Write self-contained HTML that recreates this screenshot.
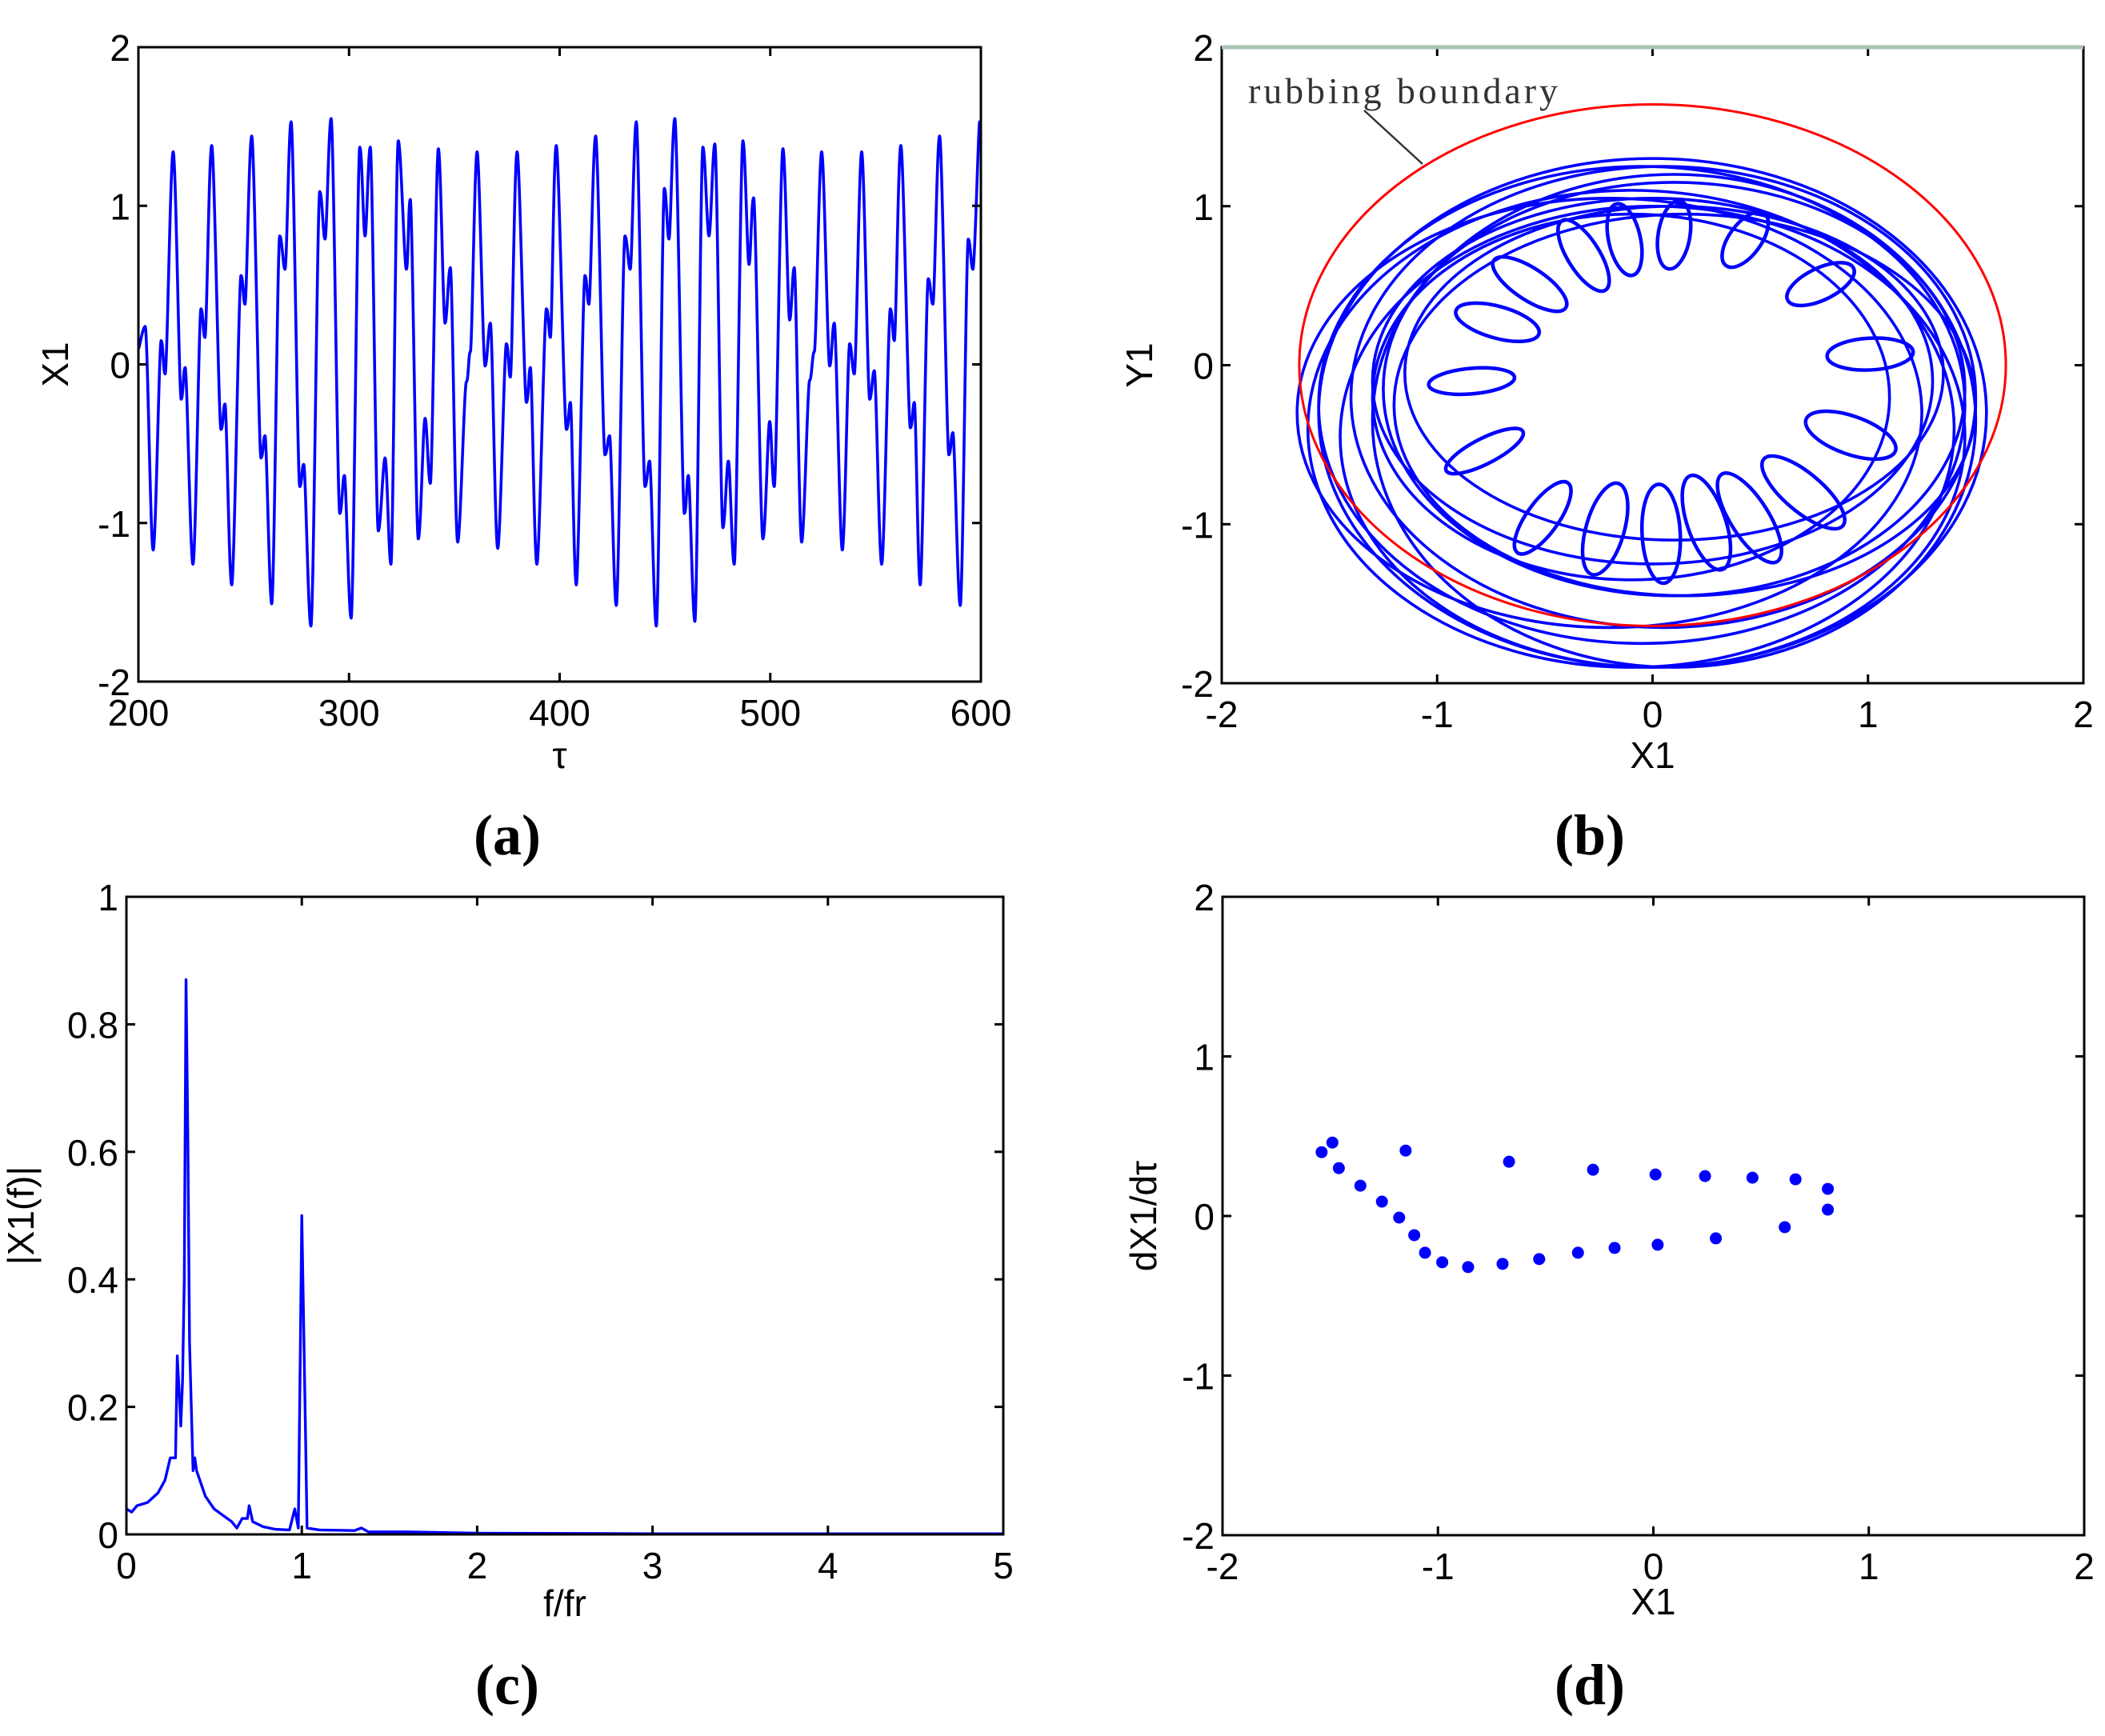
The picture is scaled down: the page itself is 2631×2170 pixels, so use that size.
<!DOCTYPE html>
<html><head><meta charset="utf-8"><style>
html,body{margin:0;padding:0;background:#fff}
svg{display:block}
text{font-family:"Liberation Sans",sans-serif}
.cap{font-family:"Liberation Serif",serif;font-weight:bold;font-size:72px}
.ann{font-family:"Liberation Serif",serif}
</style></head><body>
<svg id="fig" width="2631" height="2170" viewBox="0 0 2631 2170" xmlns="http://www.w3.org/2000/svg">
<g id="pa"></g>
<g id="pb"></g>
<g id="pc"></g>
<g id="pd"></g>
<text class="cap" x="634" y="1068" text-anchor="middle">(a)</text>
<text class="cap" x="1987" y="1068" text-anchor="middle">(b)</text>
<text class="cap" x="634" y="2130" text-anchor="middle">(c)</text>
<text class="cap" x="1987" y="2130" text-anchor="middle">(d)</text>
</svg>
<script>
// ---- Panel (a) data ----
const tauA = [200.0,203.2,207.0,210.8,212.7,216.5,220.3,222.2,225.9,229.7,231.6,234.8,239.2,241.1,244.3,248.7,250.6,253.8,258.2,260.1,263.3,267.1,269.6,272.5,276.6,278.5,281.9,286.1,288.6,291.5,295.6,297.8,301.0,305.1,307.6,310.1,313.9,317.1,319.9,323.4,327.2,329.1,332.9,336.1,338.6,342.4,345.6,348.1,351.6,355.7,357.6,360.8,364.6,367.1,370.6,374.7,376.6,379.8,384.2,386.1,389.2,393.7,395.6,398.4,403.2,405.1,407.9,412.0,413.9,417.1,421.5,423.7,426.9,431.0,433.5,436.4,440.5,442.7,445.9,449.7,451.9,454.7,459.2,461.1,464.2,468.0,470.9,473.7,477.5,480.1,482.9,487.0,489.9,492.1,496.5,499.7,501.9,506.0,509.2,511.4,514.9,518.7,520.9,524.4,528.2,530.4,534.2,537.7,539.9,543.4,547.2,549.4,552.9,557.0,558.9,562.0,566.5,568.4,571.2,575.0,577.2,580.4,584.8,586.7,590.2,594.0,596.2,599.4];
const x1A = [0.1,0.24,-1.17,0.15,-0.06,1.34,-0.22,-0.02,-1.26,0.35,0.17,1.38,-0.41,-0.25,-1.39,0.56,0.38,1.44,-0.59,-0.45,-1.51,0.81,0.6,1.53,-0.77,-0.63,-1.65,1.09,0.79,1.55,-0.94,-0.7,-1.6,1.37,0.81,1.37,-1.05,-0.59,-1.26,1.41,0.6,1.04,-1.1,-0.34,-0.75,1.36,0.26,0.61,-1.12,-0.11,0.08,1.34,-0.01,0.26,-1.16,0.13,-0.08,1.34,-0.24,-0.02,-1.26,0.35,0.17,1.38,-0.41,-0.24,-1.39,0.56,0.38,1.44,-0.57,-0.45,-1.52,0.81,0.6,1.53,-0.77,-0.61,-1.65,1.11,0.79,1.55,-0.94,-0.7,-1.62,1.37,0.81,1.39,-1.03,-0.61,-1.26,1.41,0.63,1.05,-1.1,-0.36,-0.77,1.36,0.28,0.61,-1.12,-0.1,0.08,1.34,-0.01,0.26,-1.17,0.13,-0.06,1.34,-0.22,-0.04,-1.26,0.35,0.15,1.38,-0.4,-0.24,-1.39,0.54,0.38,1.44,-0.57,-0.43,-1.52,0.79,0.6,1.53];
const ticksAx = [200,300,400,500,600];
const ticksAy = [-2,-1,0,1,2];
// ---- Panel (b) data ----
const boundR = 1.64, boundCx = 0.0, boundCy = 0.0;
const loopCx = [-0.57,-0.32,-0.13,0.10,0.43,0.78,1.01,0.92,0.70,0.45,0.25,0.04,-0.22,-0.51,-0.78,-0.84,-0.72];
const loopCy = [0.51,0.69,0.79,0.82,0.79,0.51,0.07,-0.44,-0.80,-0.96,-0.99,-1.06,-1.03,-0.96,-0.54,-0.10,0.27];
const loopLen = [0.2,0.19,0.17,0.16,0.15,0.17,0.2,0.22,0.24,0.24,0.23,0.23,0.22,0.2,0.2,0.2,0.2];
const loopWid = [0.1,0.1,0.1,0.1,0.1,0.1,0.1,0.12,0.12,0.12,0.12,0.12,0.12,0.1,0.08,0.08,0.1];
const ringCx = [0.0,-0.05,0.05,0.1,0.0,0.1,-0.1,0.1,-0.2,0.0,0.15,-0.1];
const ringCy = [-0.3,-0.25,-0.2,-0.15,-0.1,-0.05,-0.4,-0.35,-0.3,-0.45,-0.25,-0.2];
const ringRx = [1.55,1.5,1.45,1.35,1.3,1.25,1.5,1.4,1.45,1.45,1.35,1.2];
const ringRy = [1.6,1.5,1.45,1.3,1.15,1.05,1.5,1.55,1.35,1.45,1.2,1.15];
const ticksB = [-2,-1,0,1,2];
// ---- Panel (c) data ----
const freqC = [0,0.03,0.06,0.12,0.18,0.22,0.25,0.28,0.29,0.305,0.31,0.32,0.33,0.34,0.35,0.36,0.37,0.38,0.39,0.4,0.45,0.5,0.55,0.6,0.63,0.66,0.69,0.7,0.72,0.78,0.85,0.93,0.96,0.98,0.99,1.0,1.01,1.02,1.03,1.1,1.3,1.34,1.38,1.6,2,3,5];
const ampC = [0.04,0.035,0.045,0.05,0.065,0.085,0.12,0.12,0.28,0.2,0.17,0.24,0.4,0.87,0.63,0.3,0.2,0.1,0.12,0.1,0.06,0.04,0.03,0.02,0.01,0.025,0.025,0.045,0.02,0.012,0.008,0.007,0.04,0.01,0.25,0.5,0.34,0.18,0.01,0.007,0.006,0.01,0.004,0.004,0.002,0.001,0.001];
const ticksCx = [0,1,2,3,4,5];
const ticksCy = [0,0.2,0.4,0.6,0.8,1];
const tickLabelsCy = ["0","0.2","0.4","0.6","0.8","1"];
// ---- Panel (d) data ----
const x1D = [-1.54,-1.49,-1.46,-1.36,-1.26,-1.18,-1.11,-1.06,-0.98,-0.86,-0.70,-0.53,-0.35,-0.18,0.02,0.29,0.61,0.81,0.81,0.66,0.46,0.24,0.01,-0.28,-0.67,-1.15];
const dxD = [0.40,0.46,0.30,0.19,0.09,-0.01,-0.12,-0.23,-0.29,-0.32,-0.30,-0.27,-0.23,-0.20,-0.18,-0.14,-0.07,0.04,0.17,0.23,0.24,0.25,0.26,0.29,0.34,0.41];

const NS = "http://www.w3.org/2000/svg";
function el(parent, tag, attrs){ const e=document.createElementNS(NS,tag); for(const k in attrs) e.setAttribute(k,attrs[k]); parent.appendChild(e); return e; }
function scale(d0,d1,r0,r1){ return v=>r0+(v-d0)/(d1-d0)*(r1-r0); }

function axesFrame(g, L,T,R,B, sx, sy, tx, ty, tyLabels, xlab, ylab, ylabX, xlabY, prefix){
  const f=el(g,'rect',{x:L,y:T,width:R-L,height:B-T,fill:'none',stroke:'#000','stroke-width':3});
  
  
  tx.forEach(v=>{
    const x=sx(v);
    const t1=el(g,'line',{x1:x,y1:B,x2:x,y2:B-11,stroke:'#000','stroke-width':3});
    
    
    const t2=el(g,'line',{x1:x,y1:T,x2:x,y2:T+11,stroke:'#000','stroke-width':3});
    
    
    const lb=el(g,'text',{x:x,y:B+55,'text-anchor':'middle','font-size':46});
    lb.textContent=String(v);
    
    
  });
  ty.forEach((v,i)=>{
    const y=sy(v);
    const t1=el(g,'line',{x1:L,y1:y,x2:L+11,y2:y,stroke:'#000','stroke-width':3});
    
    
    const t2=el(g,'line',{x1:R,y1:y,x2:R-11,y2:y,stroke:'#000','stroke-width':3});
    
    
    const lb=el(g,'text',{x:L-10,y:y+17,'text-anchor':'end','font-size':46});
    lb.textContent=tyLabels?tyLabels[i]:String(v);
    
    
  });
  const xl=el(g,'text',{x:(L+R)/2,y:xlabY,'text-anchor':'middle','font-size':46});
  xl.textContent=xlab;
  
  
  const cy=(T+B)/2;
  const yl=el(g,'text',{x:ylabX,y:cy,'text-anchor':'middle','font-size':46,transform:`rotate(-90 ${ylabX} ${cy})`});
  yl.textContent=ylab;
  
  
}

function smoothPath(pts){
  let d=`M${pts[0][0]},${pts[0][1]}`;
  for(let i=0;i<pts.length-1;i++){
    const p0=pts[Math.max(0,i-1)],p1=pts[i],p2=pts[i+1],p3=pts[Math.min(pts.length-1,i+2)];
    const c1=[p1[0]+(p2[0]-p0[0])/6, p1[1]];
    const c2=[p2[0]-(p3[0]-p1[0])/6, p2[1]];
    d+=` C${c1[0]},${c1[1]} ${c2[0]},${c2[1]} ${p2[0]},${p2[1]}`;
  }
  return d;
}

// Panel A
(function(){
  const g=document.getElementById('pa');
  const L=173,R=1226,T=59,B=852;
  const sx=scale(200,600,L,R), sy=scale(-2,2,B,T);
  const pts=tauA.map((t,i)=>[sx(t),sy(x1A[i])]);
  const p=el(g,'path',{d:smoothPath(pts),fill:'none',stroke:'#0000ff','stroke-width':3.6,'stroke-linejoin':'round'});
  
  
  axesFrame(g,L,T,R,B,sx,sy,ticksAx,ticksAy,null,'τ','X1',85,960,'panel-a');
})();

// Panel B
(function(){
  const g=document.getElementById('pb');
  const L=1527,R=2604,T=59,B=854;
  const sx=scale(-2,2,L,R), sy=scale(-2,2,B,T);
  const kx=(R-L)/4, ky=(B-T)/4;
  ringCx.forEach((c,i)=>{
    const e=el(g,'ellipse',{cx:sx(c),cy:sy(ringCy[i]),rx:ringRx[i]*kx,ry:ringRy[i]*ky,fill:'none',stroke:'#0000ff','stroke-width':3.6});
    
    
  });
  loopCx.forEach((c,i)=>{
    const ang=Math.atan2(-loopCy[i]*ky, loopCx[i]*kx)*180/Math.PI;
    const e=el(g,'ellipse',{cx:sx(c),cy:sy(loopCy[i]),rx:loopLen[i]*kx,ry:loopWid[i]*ky,fill:'none',stroke:'#0000ff','stroke-width':4.5,transform:`rotate(${ang} ${sx(c)} ${sy(loopCy[i])})`});
    
    
  });
  const circ=el(g,'ellipse',{cx:sx(boundCx),cy:sy(boundCy),rx:boundR*kx,ry:boundR*ky,fill:'none',stroke:'#ff0000','stroke-width':3});
  
  
  axesFrame(g,L,T,R,B,sx,sy,ticksB,ticksB,null,'X1','Y1',1440,960,'panel-b');
  const top=el(g,'line',{x1:L,y1:T,x2:R,y2:T,stroke:'#a9c4b2','stroke-width':5});
  
  
  const ann=el(g,'text',{x:1560,y:129,'font-size':46,fill:'#333',class:'ann',textLength:387});
  ann.textContent='rubbing boundary';
  
  
  const ld=el(g,'line',{x1:1705,y1:138,x2:1778,y2:205,stroke:'#333','stroke-width':2.5});
  
  
})();

// Panel C
(function(){
  const g=document.getElementById('pc');
  const L=158,R=1254,T=1121,B=1918;
  const sx=scale(0,5,L,R), sy=scale(0,1,B,T);
  const d=freqC.map((f,i)=>(i?'L':'M')+sx(f)+','+sy(ampC[i])).join(' ');
  const p=el(g,'path',{d:d,fill:'none',stroke:'#0000ff','stroke-width':3.4,'stroke-linejoin':'round'});
  
  
  axesFrame(g,L,T,R,B,sx,sy,ticksCx,ticksCy,tickLabelsCy,'f/fr','|X1(f)|',42,2020,'panel-c');
})();

// Panel D
(function(){
  const g=document.getElementById('pd');
  const L=1528,R=2605,T=1121,B=1919;
  const sx=scale(-2,2,L,R), sy=scale(-2,2,B,T);
  x1D.forEach((x,i)=>{
    const c=el(g,'circle',{cx:sx(x),cy:sy(dxD[i]),r:7.5,fill:'#0000ff'});
    
    
  });
  axesFrame(g,L,T,R,B,sx,sy,ticksB,ticksB,null,'X1','dX1/dτ',1445,2018,'panel-d');
})();
</script>
</body></html>
